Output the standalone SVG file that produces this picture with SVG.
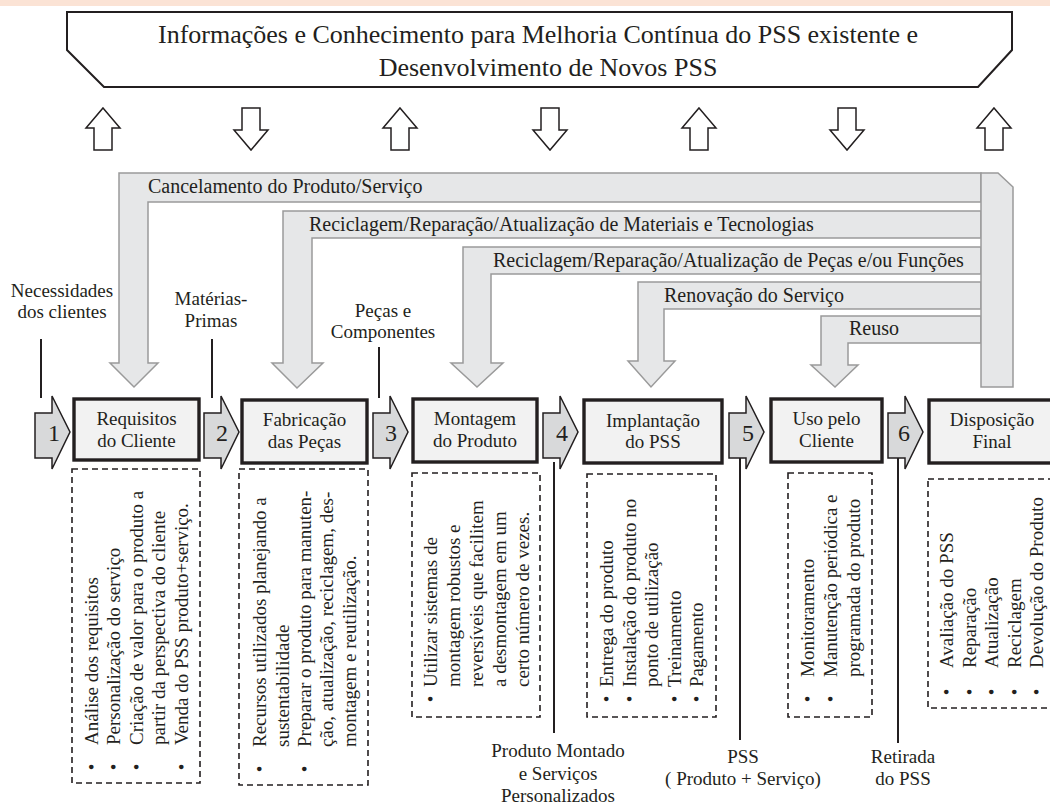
<svg xmlns="http://www.w3.org/2000/svg" width="1050" height="805" viewBox="0 0 1050 805">
<style>
text{font-family:"Liberation Serif","Times New Roman",serif;fill:#231f20}
.t19{font-size:19px}
.t20{font-size:20px}
.mid{text-anchor:middle}
.loop{fill:#e6e7e8;stroke:#9a9a9a;stroke-width:1.5;stroke-linejoin:miter}
.hol{fill:#fff;stroke:#231f20;stroke-width:1.5}
.num{fill:#d8d9da;stroke:#231f20;stroke-width:1.5}
.node{fill:#f2f2f2;stroke:#231f20;stroke-width:3.4}
.dash{fill:none;stroke:#231f20;stroke-width:1.6;stroke-dasharray:6 4}
.ln{stroke:#231f20;stroke-width:2;fill:none}
</style>
<rect x="0" y="0" width="1050" height="805" fill="#fff"/>
<rect x="0" y="0" width="1050" height="6" fill="#fbe3d5"/>

<g id="banner">
<path d="M67,12 H1012 V50 L978,87 H104 L67,50 Z" fill="#fff" stroke="#231f20" stroke-width="2"/>
<text x="538" y="43" class="mid" style="font-size:26px" textLength="760" lengthAdjust="spacing">Informações e Conhecimento para Melhoria Contínua do PSS existente e</text>
<text x="548" y="76" class="mid" style="font-size:26px">Desenvolvimento de Novos PSS</text>
</g>

<g id="feedback-arrows">
<path class="hol" d="M103,108 L120,128 H112 V150 H94 V128 H86 Z"/>
<path class="hol" d="M242,108 H260 V130 H268 L251,150 L234,130 H242 Z"/>
<path class="hol" d="M400,108 L417,128 H409 V150 H391 V128 H383 Z"/>
<path class="hol" d="M541,108 H559 V130 H567 L550,150 L533,130 H541 Z"/>
<path class="hol" d="M699,108 L716,128 H708 V150 H690 V128 H682 Z"/>
<path class="hol" d="M838,108 H856 V130 H864 L847,150 L830,130 H838 Z"/>
<path class="hol" d="M994,108 L1011,128 H1003 V150 H985 V128 H977 Z"/>
</g>

<g id="loops">
<path class="loop" d="M981,173 H119 V363 H110 L134,387 L158,363 H148 V202 H981 Z"/>
<path class="loop" d="M981,211 H283 V363 H272 L297,388 L323,363 H312 V238 H981 Z"/>
<path class="loop" d="M981,247 H463 V363 H451 L477,387 L503,363 H491 V274 H981 Z"/>
<path class="loop" d="M981,282 H638 V361 H628 L651,387 L675,361 H664 V309 H981 Z"/>
<path class="loop" d="M981,316 H821 V365 H811 L835,387 L858,365 H848 V343 H981 Z"/>
<path class="loop" d="M981,173 H998 L1013,187 V387 H981 Z"/>
<text x="148" y="193" class="t20">Cancelamento do Produto/Serviço</text>
<text x="309" y="231" class="t20">Reciclagem/Reparação/Atualização de Materiais e Tecnologias</text>
<text x="493" y="267" class="t20">Reciclagem/Reparação/Atualização de Peças e/ou Funções</text>
<text x="664" y="302" class="t20">Renovação do Serviço</text>
<text x="849" y="335" class="t20">Reuso</text>
</g>

<g id="connectors">
<line class="ln" x1="41" y1="339" x2="41" y2="398"/>
<line class="ln" x1="212" y1="339" x2="212" y2="398"/>
<line class="ln" x1="379" y1="347" x2="379" y2="398"/>
<line class="ln" x1="554" y1="462" x2="554" y2="733"/>
<line class="ln" x1="740" y1="457" x2="740" y2="740"/>
<line class="ln" x1="898" y1="458" x2="898" y2="743"/>
<path class="num" d="M35,413 H52 V396 L70,432 L52,469 V458 H35 Z"/>
<path class="num" d="M204,413 H221 V396 L239,432 L221,469 V458 H204 Z"/>
<path class="num" d="M373,413 H390 V396 L408,432 L390,469 V458 H373 Z"/>
<path class="num" d="M543,413 H560 V396 L578,432 L560,469 V458 H543 Z"/>
<path class="num" d="M729,413 H746 V396 L764,432 L746,469 V458 H729 Z"/>
<path class="num" d="M888,413 H905 V396 L923,432 L905,469 V458 H888 Z"/>
<text x="54" y="441" class="mid" style="font-size:24px">1</text>
<text x="222" y="441" class="mid" style="font-size:24px">2</text>
<text x="391" y="441" class="mid" style="font-size:24px">3</text>
<text x="562" y="441" class="mid" style="font-size:24px">4</text>
<text x="748" y="441" class="mid" style="font-size:24px">5</text>
<text x="904" y="441" class="mid" style="font-size:24px">6</text>
</g>

<g id="inputs">
<text x="62" y="297" class="t19 mid">Necessidades</text>
<text x="62" y="318" class="t19 mid">dos clientes</text>
<text x="211" y="305" class="t19 mid">Matérias-</text>
<text x="211" y="327" class="t19 mid">Primas</text>
<text x="383" y="317" class="t19 mid">Peças e</text>
<text x="383" y="338" class="t19 mid">Componentes</text>
<text x="558" y="757" class="t19 mid">Produto Montado</text>
<text x="558" y="780" class="t19 mid">e Serviços</text>
<text x="558" y="802" class="t19 mid">Personalizados</text>
<text x="743" y="763" class="t19 mid">PSS</text>
<text x="743" y="785" class="t19 mid">( Produto + Serviço)</text>
<text x="903" y="763" class="t19 mid">Retirada</text>
<text x="903" y="785" class="t19 mid">do PSS</text>
</g>

<g id="node1">
<rect class="node" x="74" y="399" width="125" height="61"/>
<text x="136.5" y="425" class="t19 mid">Requisitos</text>
<text x="136.5" y="447" class="t19 mid">do Cliente</text>
<rect class="dash" x="72" y="469" width="128" height="314"/>
<g class="t19">
<text transform="translate(98,745) rotate(-90)">Análise dos requisitos</text>
<text transform="translate(120,745) rotate(-90)">Personalização do serviço</text>
<text transform="translate(142.5,745) rotate(-90)">Criação de valor para o produto a</text>
<text transform="translate(165,745) rotate(-90)">partir da perspectiva do cliente</text>
<text transform="translate(187.5,745) rotate(-90)">Venda do PSS produto+serviço.</text>
<text class="mid" transform="translate(98,767) rotate(-90)">•</text>
<text class="mid" transform="translate(120,767) rotate(-90)">•</text>
<text class="mid" transform="translate(142.5,767) rotate(-90)">•</text>
<text class="mid" transform="translate(187.5,767) rotate(-90)">•</text>
</g>
</g>

<g id="node2">
<rect class="node" x="242" y="400" width="125" height="63"/>
<text x="304.5" y="426" class="t19 mid">Fabricação</text>
<text x="304.5" y="448" class="t19 mid">das Peças</text>
<rect class="dash" x="239" y="469" width="129" height="316"/>
<g class="t19">
<text transform="translate(266,747) rotate(-90)">Recursos utilizados planejando a</text>
<text transform="translate(289,747) rotate(-90)">sustentabilidade</text>
<text transform="translate(311,747) rotate(-90)">Preparar o produto para manuten-</text>
<text transform="translate(333,747) rotate(-90)">ção, atualização, reciclagem, des-</text>
<text transform="translate(356,747) rotate(-90)">montagem e reutilização.</text>
<text class="mid" transform="translate(266,769) rotate(-90)">•</text>
<text class="mid" transform="translate(311,769) rotate(-90)">•</text>
</g>
</g>

<g id="node3">
<rect class="node" x="413" y="399" width="124" height="63"/>
<text x="475" y="425" class="t19 mid">Montagem</text>
<text x="475" y="447" class="t19 mid">do Produto</text>
<rect class="dash" x="412" y="473" width="128" height="244"/>
<g class="t19">
<text transform="translate(437,687) rotate(-90)">Utilizar sistemas de</text>
<text transform="translate(460,687) rotate(-90)">montagem robustos e</text>
<text transform="translate(483,687) rotate(-90)">reversíveis que facilitem</text>
<text transform="translate(506,687) rotate(-90)">a desmontagem em um</text>
<text transform="translate(529,687) rotate(-90)">certo número de vezes.</text>
<text class="mid" transform="translate(437,699) rotate(-90)">•</text>
</g>
</g>

<g id="node4">
<rect class="node" x="584" y="400" width="138" height="63"/>
<text x="653" y="427" class="t19 mid">Implantação</text>
<text x="653" y="448" class="t19 mid">do PSS</text>
<rect class="dash" x="587" y="474" width="129" height="243"/>
<g class="t19">
<text transform="translate(613,687) rotate(-90)">Entrega do produto</text>
<text transform="translate(635.5,687) rotate(-90)">Instalação do produto no</text>
<text transform="translate(658,687) rotate(-90)">ponto de utilização</text>
<text transform="translate(680.5,687) rotate(-90)">Treinamento</text>
<text transform="translate(703,687) rotate(-90)">Pagamento</text>
<text class="mid" transform="translate(613,699) rotate(-90)">•</text>
<text class="mid" transform="translate(635.5,699) rotate(-90)">•</text>
<text class="mid" transform="translate(680.5,699) rotate(-90)">•</text>
<text class="mid" transform="translate(703,699) rotate(-90)">•</text>
</g>
</g>

<g id="node5">
<rect class="node" x="771" y="399" width="111" height="63"/>
<text x="826.5" y="425" class="t19 mid">Uso pelo</text>
<text x="826.5" y="447" class="t19 mid">Cliente</text>
<rect class="dash" x="788" y="473" width="84" height="244"/>
<g class="t19">
<text transform="translate(814,677) rotate(-90)">Monitoramento</text>
<text transform="translate(837,677) rotate(-90)">Manutenção periódica e</text>
<text transform="translate(860,677) rotate(-90)">programada do produto</text>
<text class="mid" transform="translate(814,699) rotate(-90)">•</text>
<text class="mid" transform="translate(837,699) rotate(-90)">•</text>
</g>
</g>

<g id="node6">
<rect class="node" x="929" y="400" width="130" height="63"/>
<text x="992" y="426" class="t19 mid">Disposição</text>
<text x="992" y="448" class="t19 mid">Final</text>
<rect class="dash" x="928" y="479" width="130" height="229"/>
<g class="t19">
<text transform="translate(953,668) rotate(-90)">Avaliação do PSS</text>
<text transform="translate(975.5,668) rotate(-90)">Reparação</text>
<text transform="translate(998,668) rotate(-90)">Atualização</text>
<text transform="translate(1020.5,668) rotate(-90)">Reciclagem</text>
<text transform="translate(1043,668) rotate(-90)">Devolução do Produto</text>
<text class="mid" transform="translate(953,692) rotate(-90)">•</text>
<text class="mid" transform="translate(975.5,692) rotate(-90)">•</text>
<text class="mid" transform="translate(998,692) rotate(-90)">•</text>
<text class="mid" transform="translate(1020.5,692) rotate(-90)">•</text>
<text class="mid" transform="translate(1043,692) rotate(-90)">•</text>
</g>
</g>
</svg>
